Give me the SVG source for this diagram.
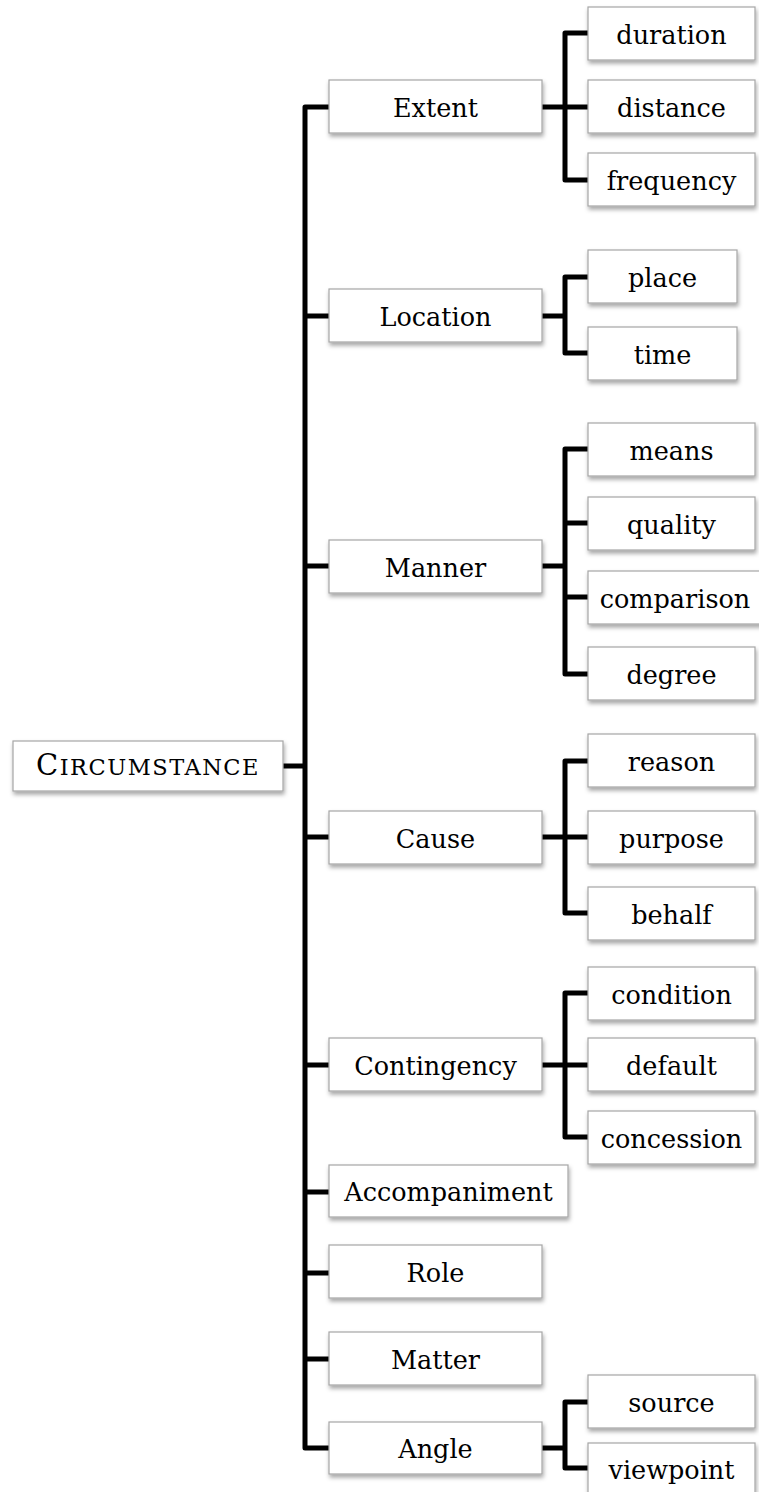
<svg xmlns="http://www.w3.org/2000/svg" width="759" height="1492" viewBox="0 0 759 1492">
<style>
.box{fill:#fff;stroke:#a6a6a6;stroke-width:1.2;filter:url(#sh)}
.t{font-family:"DejaVu Serif","Liberation Serif",serif;font-size:25.5px;fill:#000;text-anchor:middle}
.c{fill:none;stroke:#000;stroke-width:5;stroke-linejoin:round;stroke-linecap:butt}
</style>
<defs>
<filter id="sh" x="-10%" y="-20%" width="120%" height="160%">
<feDropShadow dx="1" dy="3" stdDeviation="2" flood-color="#000" flood-opacity="0.35"/>
</filter>
</defs>
<rect width="759" height="1492" fill="#fff"/>
<g id="connectors">
<path class="c" d="M330,107 H305 V1448 H330"/>
<path class="c" d="M283,766 H305"/>
<path class="c" d="M305,316 H330 M305,566 H330 M305,837 H330 M305,1065 H330 M305,1192 H330 M305,1273 H330 M305,1359 H330"/>
<path class="c" d="M542,107 H588 M588,33 H565 V180 H588"/>
<path class="c" d="M542,316 H565 M588,277 H565 V353 H588"/>
<path class="c" d="M542,566 H565 M588,449 H565 V674 H588 M565,523 H588 M565,597 H588"/>
<path class="c" d="M542,837 H588 M588,761 H565 V913 H588"/>
<path class="c" d="M542,1065 H588 M588,993 H565 V1137 H588"/>
<path class="c" d="M542,1448 H565 M588,1402 H565 V1468 H588"/>
</g>
<g id="circumstance"><rect class="box" x="13" y="741" width="270" height="50"/><text class="t" x="148" y="775" letter-spacing="1.5"><tspan font-size="29">C</tspan><tspan font-size="22.5">IRCUMSTANCE</tspan></text></g>
<g id="extent"><rect class="box" x="329" y="80" width="213" height="53"/><text class="t" x="435.5" y="117">Extent</text></g>
<g id="duration"><rect class="box" x="588" y="7" width="167" height="53"/><text class="t" x="671.5" y="44">duration</text></g>
<g id="distance"><rect class="box" x="588" y="80" width="167" height="53"/><text class="t" x="671.5" y="117">distance</text></g>
<g id="frequency"><rect class="box" x="588" y="153" width="167" height="53"/><text class="t" x="671.5" y="190">frequency</text></g>
<g id="location"><rect class="box" x="329" y="289" width="213" height="53"/><text class="t" x="435.5" y="326">Location</text></g>
<g id="place"><rect class="box" x="588" y="250" width="149" height="53"/><text class="t" x="662.5" y="287">place</text></g>
<g id="time"><rect class="box" x="588" y="327" width="149" height="53"/><text class="t" x="662.5" y="364">time</text></g>
<g id="manner"><rect class="box" x="329" y="540" width="213" height="53"/><text class="t" x="435.5" y="577">Manner</text></g>
<g id="means"><rect class="box" x="588" y="423" width="167" height="53"/><text class="t" x="671.5" y="460">means</text></g>
<g id="quality"><rect class="box" x="588" y="497" width="167" height="53"/><text class="t" x="671.5" y="534">quality</text></g>
<g id="comparison"><rect class="box" x="588" y="571" width="174" height="53"/><text class="t" x="675" y="608">comparison</text></g>
<g id="degree"><rect class="box" x="588" y="647" width="167" height="53"/><text class="t" x="671.5" y="684">degree</text></g>
<g id="cause"><rect class="box" x="329" y="811" width="213" height="53"/><text class="t" x="435.5" y="848">Cause</text></g>
<g id="reason"><rect class="box" x="588" y="734" width="167" height="53"/><text class="t" x="671.5" y="771">reason</text></g>
<g id="purpose"><rect class="box" x="588" y="811" width="167" height="53"/><text class="t" x="671.5" y="848">purpose</text></g>
<g id="behalf"><rect class="box" x="588" y="887" width="167" height="53"/><text class="t" x="671.5" y="924">behalf</text></g>
<g id="contingency"><rect class="box" x="329" y="1038" width="213" height="53"/><text class="t" x="435.5" y="1075">Contingency</text></g>
<g id="condition"><rect class="box" x="588" y="967" width="167" height="53"/><text class="t" x="671.5" y="1004">condition</text></g>
<g id="default"><rect class="box" x="588" y="1038" width="167" height="53"/><text class="t" x="671.5" y="1075">default</text></g>
<g id="concession"><rect class="box" x="588" y="1111" width="167" height="53"/><text class="t" x="671.5" y="1148">concession</text></g>
<g id="accompaniment"><rect class="box" x="329" y="1165" width="239" height="52"/><text class="t" x="448.5" y="1201">Accompaniment</text></g>
<g id="role"><rect class="box" x="329" y="1245" width="213" height="53"/><text class="t" x="435.5" y="1282">Role</text></g>
<g id="matter"><rect class="box" x="329" y="1332" width="213" height="53"/><text class="t" x="435.5" y="1369">Matter</text></g>
<g id="angle"><rect class="box" x="329" y="1422" width="213" height="52"/><text class="t" x="435.5" y="1458">Angle</text></g>
<g id="source"><rect class="box" x="588" y="1375" width="167" height="53"/><text class="t" x="671.5" y="1412">source</text></g>
<g id="viewpoint"><rect class="box" x="588" y="1443" width="167" height="53"/><text class="t" x="671.5" y="1479">viewpoint</text></g>
</svg>
